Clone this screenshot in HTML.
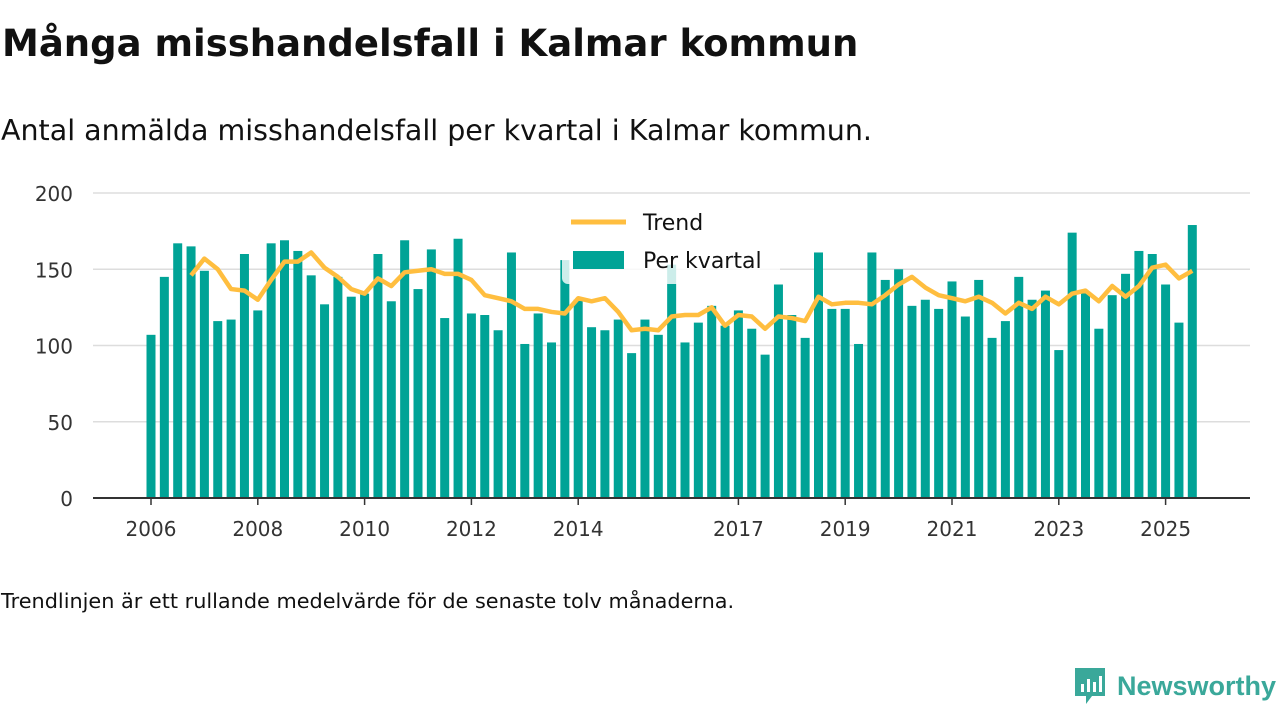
<!DOCTYPE html>
<html><head><meta charset="utf-8"><style>
body{margin:0;width:1280px;height:720px;background:#fff;font-family:"DejaVu Sans","Liberation Sans",sans-serif;color:#111;overflow:hidden;position:relative}
#title{position:absolute;left:2px;top:22px;font-size:37px;font-weight:bold;margin:0}
#sub{position:absolute;left:1px;top:114px;font-size:28.5px}
#note{position:absolute;left:1px;top:589px;font-size:20.8px}
#logo{position:absolute;left:1072px;top:666px;display:flex;align-items:center}
</style></head><body>
<h1 id="title">Många misshandelsfall i Kalmar kommun</h1>
<div id="sub">Antal anmälda misshandelsfall per kvartal i Kalmar kommun.</div>
<svg id="chart" width="1280" height="720" style="position:absolute;left:0;top:0"></svg>
<div id="note">Trendlinjen är ett rullande medelvärde för de senaste tolv månaderna.</div>
<div id="logo">
<svg width="36" height="40" viewBox="0 0 36 40"><path d="M3 2h30v28H20l-6 8v-8H3z" fill="#3aa89a"/><rect x="9" y="18" width="3" height="8" fill="#fff"/><rect x="15" y="13" width="3" height="13" fill="#fff"/><rect x="21" y="16" width="3" height="10" fill="#fff"/><rect x="27" y="10" width="3" height="16" fill="#fff"/></svg>
<span style="font-family:'Liberation Sans',sans-serif;font-size:27px;font-weight:bold;color:#3aa89a;margin-left:9px">Newsworthy</span></div>
<script>
const startYear = 2006;
const barValues = [107,145,167,165,149,116,117,160,123,167,169,162,146,127,145,132,134,160,129,169,137,163,118,170,121,120,110,161,101,121,102,156,130,112,110,117,95,117,107,153,102,115,126,113,123,111,94,140,120,105,161,124,124,101,161,143,150,126,130,124,142,119,143,105,116,145,130,136,97,174,135,111,133,147,162,160,140,115,179];
const trendValues = [null,null,null,146,157,150,137,136,130,143,155,155,161,151,145,137,134,144,139,148,149,150,147,147,143,133,131,129,124,124,122,121,131,129,131,122,110,111,110,119,120,120,125,113,120,119,111,119,118,116,132,127,128,128,127,133,140,145,138,133,131,129,132,128,121,128,124,132,127,134,136,129,139,132,139,151,153,144,149];
const yTicks = [0,50,100,150,200];
const xTickYears = [2006,2008,2010,2012,2014,2017,2019,2021,2023,2025];
const NS='http://www.w3.org/2000/svg';
const svg=document.getElementById('chart');
const x=i=>151+i*13.35;
const y=v=>498-v*1.525;
function mk(t,a,p){const e=document.createElementNS(NS,t);for(const k in a)e.setAttribute(k,a[k]);(p||svg).appendChild(e);return e;}
yTicks.forEach(v=>{
  if(v>0){const g=mk('line',{x1:93,x2:1250,y1:y(v),y2:y(v),stroke:'#ddd','stroke-width':1.5});
  
  }
  const t=mk('text',{x:73,y:y(v)+8,'text-anchor':'end','font-size':20,fill:'#333'});t.textContent=v;
  
  
});
barValues.forEach((v,i)=>{
  const r=mk('rect',{x:x(i)-4.5,y:y(v),width:9,height:v*1.525,fill:'#00a396'});
  
  
});
const ax=mk('line',{x1:93,x2:1250,y1:498,y2:498,stroke:'#333','stroke-width':2});


xTickYears.forEach(yr=>{
  const i=(yr-startYear)*4;
  mk('line',{x1:x(i),x2:x(i),y1:498,y2:505,stroke:'#333','stroke-width':1.5});
  const t=mk('text',{x:x(i),y:536,'text-anchor':'middle','font-size':20,fill:'#333'});t.textContent=yr;
  
  
});
let d='';trendValues.forEach((v,i)=>{if(v!=null)d+=(d?'L':'M')+x(i)+','+y(v);});
const p=mk('path',{d:d,fill:'none',stroke:'#ffbe3f','stroke-width':4.5,'stroke-linejoin':'round'});


const lg=mk('g',{});


mk('rect',{x:562,y:200,width:218,height:84,rx:6,fill:'#fff','fill-opacity':0.8},lg);
mk('line',{x1:571,x2:626,y1:222,y2:222,stroke:'#ffbe3f','stroke-width':5},lg);
const t1=mk('text',{x:643,y:230,'font-size':22,fill:'#111'},lg);t1.textContent='Trend';
mk('rect',{x:573,y:251,width:51,height:18,fill:'#00a396'},lg);
const t2=mk('text',{x:643,y:268,'font-size':22,fill:'#111'},lg);t2.textContent='Per kvartal';
</script>
</body></html>
